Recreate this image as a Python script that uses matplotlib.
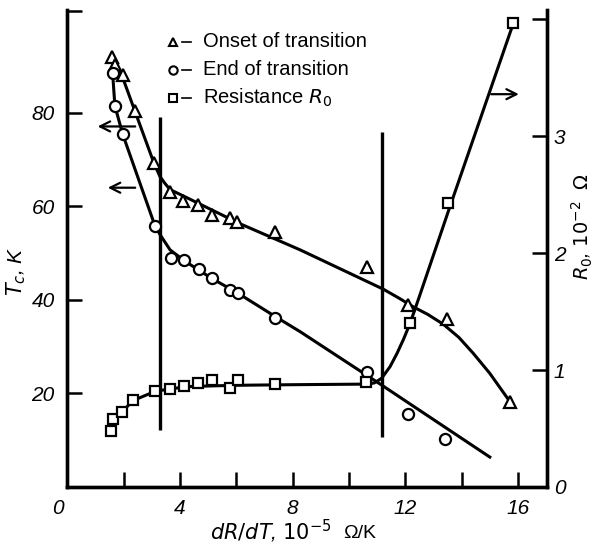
import matplotlib
matplotlib.use("Agg")
import matplotlib.pyplot as plt
from matplotlib.transforms import blended_transform_factory

# points (x in 1e-5 Ohm/K, Tc in K, R0 in 1e-2 Ohm)
onset_x = [1.58, 1.69, 1.97, 2.40, 3.08, 3.65, 4.12, 4.63, 5.13, 5.78, 6.04, 7.37, 10.63, 12.10, 13.47, 15.72]
onset_y = [91.9, 90.3, 88.0, 80.4, 69.2, 63.0, 61.2, 60.4, 58.2, 57.6, 56.7, 54.6, 47.1, 38.9, 36.0, 18.2]

end_x = [1.61, 1.69, 1.97, 3.11, 3.67, 4.15, 4.68, 5.13, 5.78, 6.07, 7.37, 10.63, 12.10, 13.41]
end_y = [88.5, 81.5, 75.4, 55.9, 48.9, 48.5, 46.7, 44.6, 42.1, 41.4, 36.2, 24.5, 15.7, 10.3]

res_x = [1.54, 1.61, 1.95, 2.34, 3.11, 3.65, 4.15, 4.65, 5.15, 5.78, 6.07, 7.37, 10.60, 12.17, 13.53, 15.84]
res_y = [0.48, 0.58, 0.645, 0.74, 0.817, 0.837, 0.86, 0.89, 0.917, 0.846, 0.917, 0.883, 0.894, 1.40, 2.43, 3.97]

# hand drawn guide curves
onset_curve_x = [1.58, 1.97, 2.40, 3.08, 3.29, 3.47, 3.65, 4.2, 6.13, 8.27, 11.22, 11.8, 12.29,
                 12.8, 13.35, 13.9, 14.41, 15.0, 15.72]
onset_curve_y = [92.0, 87.5, 80.4, 69.2, 66.4, 64.9, 63.6, 62.0, 56.3, 50.7, 42.3, 40.3, 38.5,
                 36.9, 34.8, 32.0, 28.6, 24.3, 18.2]

end_curve_x = [1.61, 1.69, 1.97, 3.11, 3.29, 3.65, 4.2, 5.13, 6.07, 7.37, 8.27, 11.16, 15.0]
end_curve_y = [88.5, 81.5, 75.4, 55.9, 54.0, 50.7, 48.2, 44.6, 41.4, 36.5, 33.2, 21.8, 6.4]

res_curve_x = [1.54, 1.61, 1.95, 2.34, 3.11, 3.65, 4.4, 6.0, 8.0, 10.6, 10.9, 11.16, 11.46, 11.7,
               11.93, 12.17, 12.5, 13.53, 15.84]
res_curve_y = [0.48, 0.58, 0.645, 0.74, 0.817, 0.84, 0.86, 0.87, 0.875, 0.88, 0.89, 0.93, 1.03, 1.14,
               1.26, 1.40, 1.63, 2.36, 3.97]

bounds_x = [3.29, 11.16]
bounds_lo = [12.2, 10.7]
bounds_hi = [79.2, 76.0]

num_font = ['Liberation Sans Narrow', 'Liberation Sans', 'DejaVu Sans']
plt.rcParams['font.family'] = ['Liberation Sans', 'DejaVu Sans']

fig = plt.figure(figsize=(5.98, 5.47), dpi=100)
ax = fig.add_axes([0.1125, 0.1097, 0.8022, 0.872])
ax2 = ax.twinx()

ax.set_xlim(0, 17.03)
ax.set_ylim(0, 102)
ax2.set_ylim(0, 4.08)

lw = 2.2
ax.plot(onset_curve_x, onset_curve_y, color='black', lw=lw, zorder=2)
ax.plot(end_curve_x, end_curve_y, color='black', lw=lw, zorder=2)
ax2.plot(res_curve_x, res_curve_y, color='black', lw=lw, zorder=2)
ax.vlines(bounds_x, bounds_lo, bounds_hi, color='black', lw=2.4)

ax.plot(onset_x, onset_y, ls='none', marker='^', ms=8.5, mfc='white', mec='black', mew=1.6, zorder=3)
ax.plot(end_x, end_y, ls='none', marker='o', ms=8, mfc='white', mec='black', mew=1.6, zorder=3)
ax2.plot(res_x, res_y, ls='none', marker='s', ms=6.5, mfc='white', mec='black', mew=1.6, zorder=3)

arrow = dict(arrowstyle='->', lw=1.6, color='black', mutation_scale=18)
ax.annotate('', xy=(0.98, 77.1), xytext=(2.51, 77.1), arrowprops=arrow)
ax.annotate('', xy=(1.34, 64.0), xytext=(2.51, 64.0), arrowprops=arrow)
ax.annotate('', xy=(16.13, 84.0), xytext=(14.95, 84.0), arrowprops=arrow)

# legend drawn by hand
leg = [('^', 'Onset of transition'), ('o', 'End of transition'), ('s', r'Resistance $R_0$')]
for i, (m, lab) in enumerate(leg):
    yy = 0.933 - i * 0.0587
    ax.plot([0.220], [yy], marker=m, ms=6 if m != 's' else 5.5, mfc='white', mec='black', mew=1.5,
            transform=ax.transAxes, clip_on=False)
    ax.plot([0.240, 0.258], [yy, yy], color='black', lw=1.2, transform=ax.transAxes)
    ax.text(0.282, yy, lab, fontsize=14.5, va='center', ha='left', transform=ax.transAxes)

for a in (ax, ax2):
    a.spines['top'].set_visible(False)
    for s in ('left', 'right', 'bottom'):
        a.spines[s].set_linewidth(2.4)

ax.set_xticks([2, 4, 6, 8, 10, 12, 14, 16])
ax.set_xticklabels(['', '4', '', '8', '', '12', '', '16'])
ax.tick_params(axis='x', direction='in', length=11, width=1.8, pad=9, labelsize=15)
ax.set_yticks([20, 40, 60, 80, 101.7])
ax.set_yticklabels(['20', '40', '60', '80', ''])
ax.tick_params(axis='y', direction='in', length=11, width=1.8, pad=9, labelsize=15)
ax2.set_yticks([0, 1, 2, 3, 4])
ax2.set_yticklabels(['0', '1', '2', '3', ''])
ax2.tick_params(axis='y', direction='in', length=11, width=1.8, pad=5, labelsize=15)
for t in ax.get_xticklabels() + ax.get_yticklabels() + ax2.get_yticklabels():
    t.set_fontstyle('italic')
    t.set_family(num_font)

tr = blended_transform_factory(ax.transData, ax.transAxes)
ax.text(-0.35, -0.025, '0', fontsize=15, style='italic', family=num_font, ha='center', va='top', transform=tr)

fig.text(0.027, 0.505, r'$T_c$, K', rotation=90, fontsize=15, ha='center', va='center', style='italic')
fig.text(0.974, 0.585, r'$R_0$, $10^{-2}$  $\Omega$', rotation=90, fontsize=14, ha='center', va='center',
         style='italic')
fig.text(0.555, 0.028, r'$dR/dT$, $10^{-5}$', fontsize=15, ha='right', va='center', style='italic')
fig.text(0.574, 0.025, 'Ω/K', fontsize=14, ha='left', va='center')

fig.savefig('out.png', dpi=100)
